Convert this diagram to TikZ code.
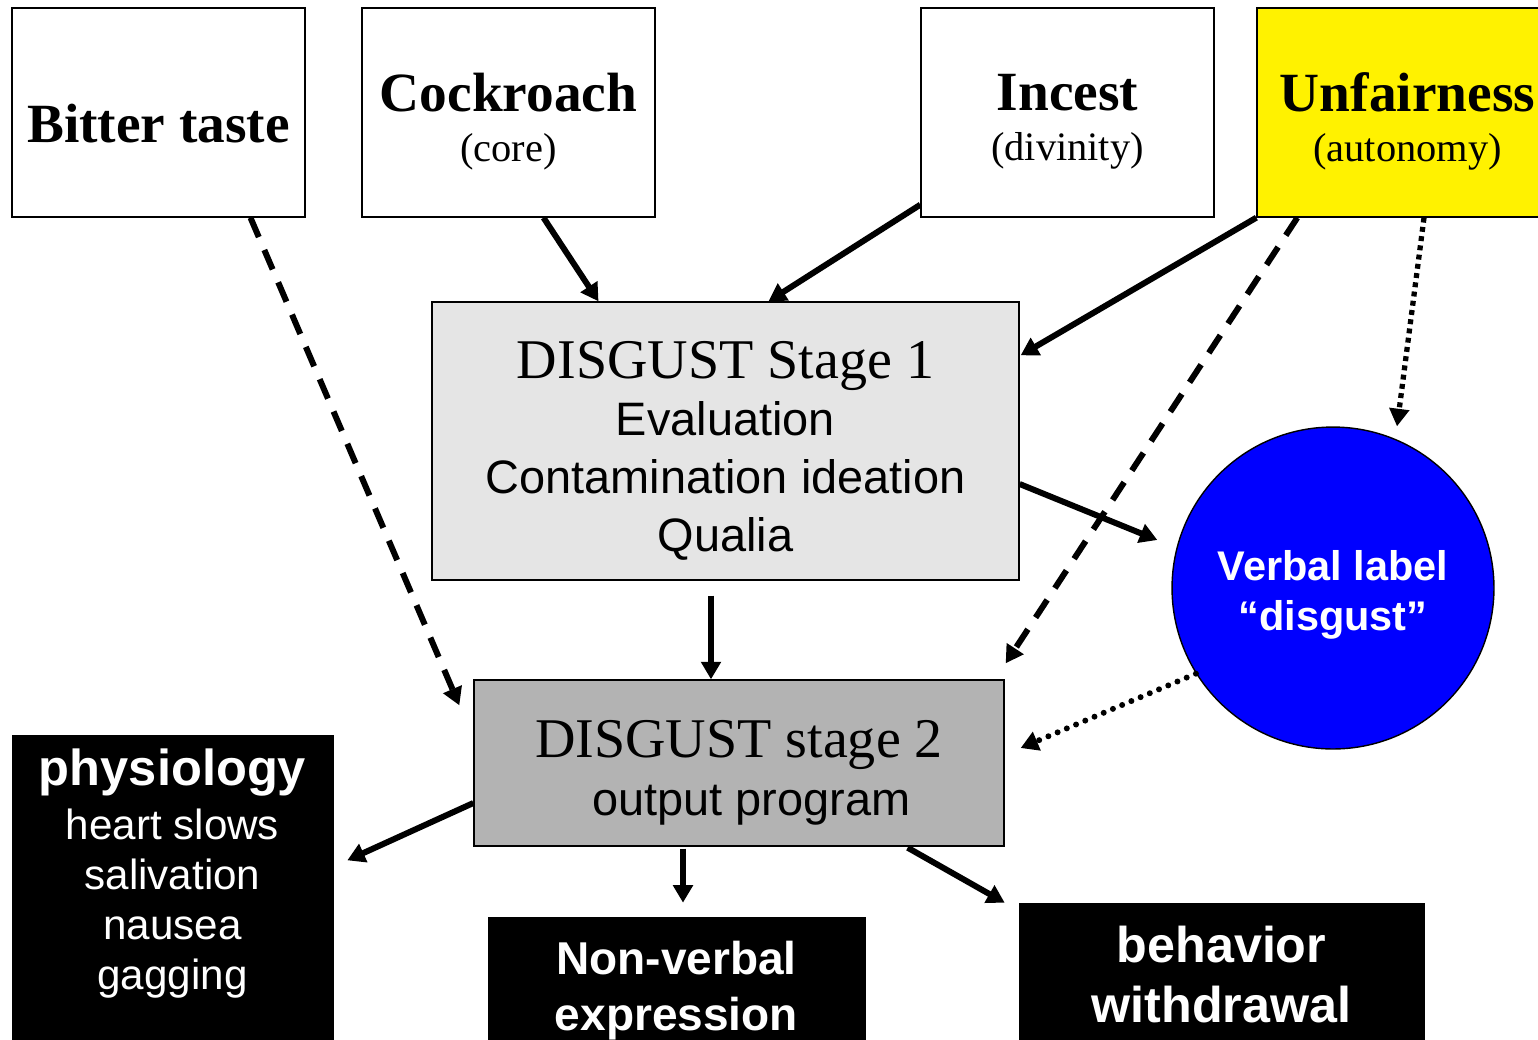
\documentclass[tikz,border=0pt]{standalone}
\usepackage{fontspec}
\setmainfont{Liberation Serif}
\setsansfont{Liberation Sans}
\usepackage{tikz}
\usetikzlibrary{arrows.meta, positioning, calc}

\definecolor{lightstage}{RGB}{229,229,229}
\definecolor{midstage}{RGB}{179,179,179}
\newcommand{\headfont}{\rmfamily\bfseries\fontsize{31.5}{36}\selectfont}
\newcommand{\tagfont}{\rmfamily\fontsize{23}{28.5}\selectfont}
\newcommand{\stagefont}{\rmfamily\fontsize{31.9}{36}\selectfont}
% push the first line down (text sits low in its box)
\newcommand{\droptext}[2]{\raisebox{0pt}[\dimexpr\height+#1\relax]{#2}}

\begin{document}
\begin{tikzpicture}[
  x=0.02cm, y=-0.02cm,
  stimulus/.style={draw, line width=0.8pt, minimum width=5.86cm, minimum height=4.18cm, inner sep=0pt, align=center, font=\fontsize{23}{28.5}\selectfont},
  stagebox/.style={draw, line width=0.8pt, inner sep=0pt, align=center, font=\sffamily\fontsize{26.7}{32.8}\selectfont},
  verbalnode/.style={circle, draw, line width=0.8pt, fill=blue, minimum size=6.44cm, inner sep=0pt, text=white, align=center, font=\sffamily\bfseries\fontsize{23.6}{28.3}\selectfont},
  darkbox/.style={fill=black, draw=black, inner sep=0pt, text=white, align=center},
  darktext/.style={text=white, align=center, font=\sffamily\fontsize{24}{28.5}\selectfont},
  link/.style={line width=3.4pt, -{Triangle[length=10pt, width=11pt]}},
  dashlink/.style={link, dash pattern=on 12pt off 8pt},
  squaredots/.style={link, line width=3pt, dash pattern=on 2.8pt off 2.5pt},
  rounddots/.style={link, line width=3.4pt, line cap=round, dash pattern=on 0pt off 5.7pt}
  ]

  \useasboundingbox (0,0) rectangle (1538,1039);
  \clip (0,0) rectangle (1538,1039);

  % Elicitors
  \node[stimulus] (bitter) at (158.5,112.5) {\droptext{13pt}{\headfont Bitter taste}};
  \node[stimulus] (cockroach) at (508.5,112.5) {\droptext{10pt}{\headfont Cockroach}\\{\tagfont (core)}};
  \node[stimulus] (incest) at (1067.5,112.5) {\droptext{10pt}{\headfont Incest}\\{\tagfont (divinity)}};
  \node[stimulus, fill=yellow, minimum width=6.02cm] (unfair) at (1407.5,112.5) {\droptext{10pt}{\headfont Unfairness}\\{\tagfont (autonomy)}};

  % Stages
  \node[stagebox, fill=lightstage, minimum width=11.74cm, minimum height=5.56cm] (stageone) at (725.5,441)
    {\droptext{11pt}{\stagefont DISGUST Stage 1}\\Evaluation\\Contamination ideation\\Qualia};
  \node[stagebox, fill=midstage, minimum width=10.6cm, minimum height=3.32cm] (stagetwo) at (739,763)
    {\droptext{11pt}{\stagefont DISGUST stage 2}\\\hspace*{14pt}output program};
  \node[verbalnode] (verbal) at (1333,588) {\droptext{8pt}{Verbal label}\\“disgust”};

  % Outputs
  \node[darkbox, minimum width=6.42cm, minimum height=7cm, anchor=north] (physio) at (172.5,735) {};
  \node[darktext, below=0.16cm of physio.north] (physiotext)
    {{\bfseries\fontsize{28.8}{34}\selectfont physiology}\\[2pt]heart slows\\salivation\\nausea\\gagging};
  \node[darkbox, minimum width=7.54cm, minimum height=2.72cm, font=\sffamily\bfseries\fontsize{26.2}{32}\selectfont] (nonverbal) at (676.5,985)
    {\droptext{6pt}{Non-verbal}\\expression};
  \node[darkbox, minimum width=8.1cm, minimum height=2.86cm, font=\sffamily\bfseries\fontsize{28.6}{34.6}\selectfont] (behavior) at (1221.5,974.5)
    {behavior\\withdrawal};

  % Links into the stages
  \draw[dashlink] ($(bitter.south)+(92,0)$) -- ($(stagetwo.north west)+(-14,26)$);
  \draw[link] ($(cockroach.south)+(35,0)$) -- ($(stageone.north)+(-127,0)$);
  \draw[link] ($(incest.south west)+(0,-13)$) -- ($(stageone.north)+(43,0)$);
  \draw[link] (unfair.south west) -- ($(stageone.north east)+(1,54)$);
  \draw[dashlink] ($(unfair.south west)+(41,0)$) -- ($(stagetwo.north east)+(1,-16)$);
  \draw[squaredots] ($(unfair.south)+(16.5,0)$) -- ($(verbal.north)+(64,0)$);
  \draw[link] ($(stageone.east)+(0,43)$) -- ($(verbal.west)+(-14,-48)$);
  \draw[link] ($(stageone.south)+(-14.5,15)$) -- ($(stagetwo.north)+(-28,0)$);
  \draw[rounddots] (verbal.212) -- ($(stagetwo.east)+(16,-15)$);

  % Links out of stage 2
  \draw[link] ($(stagetwo.west)+(0,40)$) -- ($(physio.east)+(14,-50)$);
  \draw[link] ($(stagetwo.south)+(-56,2)$) -- ($(nonverbal.north)+(6.5,-14)$);
  \draw[link] ($(stagetwo.south east)+(-97,1)$) -- ($(behavior.north west)+(-14,0)$);

\end{tikzpicture}
\end{document}
